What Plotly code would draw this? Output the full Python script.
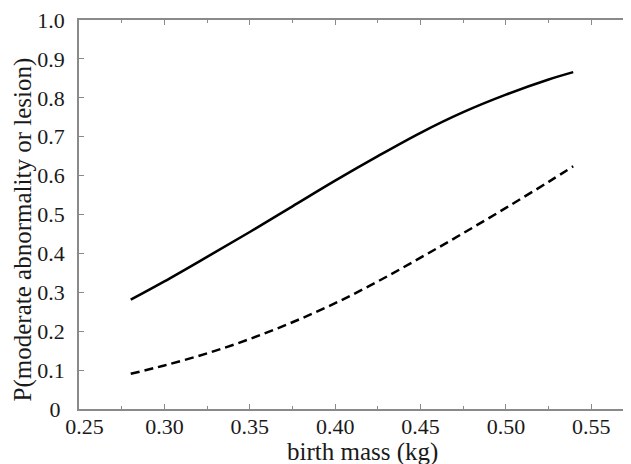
import plotly.graph_objects as go

mass_solid = [0.2803, 0.30, 0.325, 0.35, 0.375, 0.40, 0.425, 0.45, 0.475, 0.50, 0.525, 0.5394]
p_solid = [0.281, 0.328, 0.391, 0.455, 0.521, 0.587, 0.650, 0.710, 0.763, 0.808, 0.847, 0.866]

mass_dashed = [0.2803, 0.30, 0.325, 0.35, 0.375, 0.40, 0.425, 0.45, 0.475, 0.50, 0.525, 0.5394]
p_dashed = [0.0905, 0.112, 0.143, 0.180, 0.223, 0.272, 0.328, 0.389, 0.452, 0.517, 0.584, 0.624]

x_ticks = [0.25, 0.30, 0.35, 0.40, 0.45, 0.50, 0.55]
x_tick_labels = ["\u20070.25", "0.30", "0.35", "0.40", "0.45", "0.50", "0.55"]
y_ticks = [0, 0.1, 0.2, 0.3, 0.4, 0.5, 0.6, 0.7, 0.8, 0.9, 1.0]
y_tick_labels = ["0\u2009", "0.1", "0.2", "0.3", "0.4", "0.5", "0.6", "0.7", "0.8", "0.9", "1.0"]

x_title = "birth mass (kg)"
y_title = "P(moderate abnormality or lesion)"

font_family = "Liberation Serif"
axis_color = "#8a8a8a"
text_color = "#1a1a1a"

fig = go.Figure()
fig.add_trace(go.Scatter(x=mass_solid, y=p_solid, mode="lines",
                         line=dict(color="black", width=2.5, shape="spline", smoothing=1.0),
                         showlegend=False))
fig.add_trace(go.Scatter(x=mass_dashed, y=p_dashed, mode="lines",
                         line=dict(color="black", width=2.5, dash="9px,5px", shape="spline", smoothing=1.0),
                         showlegend=False))

common = dict(showgrid=False, zeroline=False, showline=True, linecolor=axis_color, linewidth=1.5,
              ticks="inside", ticklen=5, tickcolor=axis_color, tickwidth=1, mirror="allticks",
              automargin=False, ticklabeloverflow="allow",
              tickfont=dict(family=font_family, size=22, color=text_color))

fig.update_xaxes(range=[0.25, 0.575], tickvals=x_ticks, ticktext=x_tick_labels,
                 minor=dict(ticks="inside", ticklen=3, tickcolor=axis_color, dtick=0.025, tick0=0.25),
                 ticklabelstandoff=-3,
                 **common)
fig.update_yaxes(range=[0, 1.0], tickvals=y_ticks, ticktext=y_tick_labels,
                 ticklabelstandoff=8,
                 **common)

fig.add_annotation(text=x_title, xref="paper", yref="paper", x=0.51, y=0,
                   xanchor="center", yanchor="middle", yshift=-43, showarrow=False,
                   font=dict(family=font_family, size=25, color=text_color))
fig.add_annotation(text=y_title, xref="paper", yref="paper", x=0, y=0.4617,
                   xanchor="center", yanchor="middle", xshift=-56, textangle=-90, showarrow=False,
                   font=dict(family=font_family, size=25, color=text_color))

fig.update_layout(width=631, height=456, margin=dict(l=71, r=5, t=12, b=55),
                  plot_bgcolor="white", paper_bgcolor="white")

fig.write_html("out.html")
